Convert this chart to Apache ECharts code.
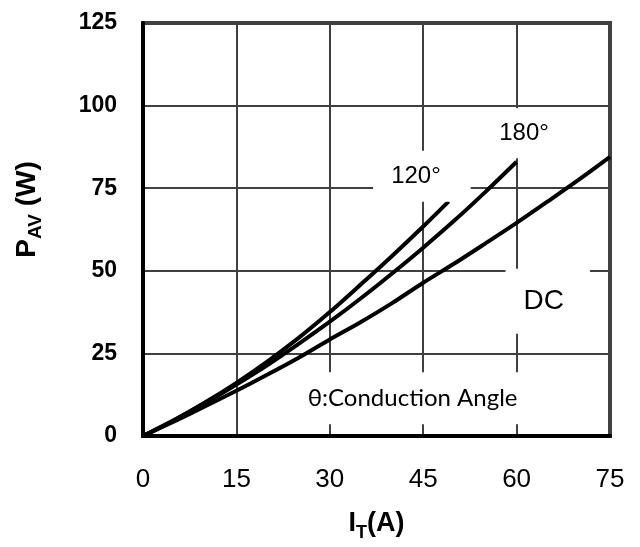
<!DOCTYPE html>
<html>
<head>
<meta charset="utf-8">
<script src="https://cdn.jsdelivr.net/npm/echarts@6/dist/echarts.min.js"></script>
<style>
  html, body { margin: 0; padding: 0; background: #ffffff; }
  #chart { width: 640px; height: 547px; }
</style>
</head>
<body>
<div id="chart"></div>
<script>
// Average on-state power dissipation vs. on-state current
const xTicks = [0, 15, 30, 45, 60, 75];
const yTicks = [0, 25, 50, 75, 100, 125];

// DC conduction
const currentDC = [0, 5, 10, 15, 20, 25, 30, 35, 40, 45, 50, 55, 60, 65, 70, 75];
const lossDC    = [0, 4.4, 9.0, 13.7, 18.6, 23.7, 29.2, 34.5, 40.2, 46.4, 52.2, 58.3, 64.5, 71.0, 77.6, 84.5];

// 180° conduction
const current180 = [0, 5, 10, 15, 20, 25, 30, 35, 40, 45, 50, 55, 60];
const loss180    = [0, 4.8, 10.0, 15.6, 21.5, 27.9, 34.6, 41.7, 49.2, 57.0, 65.2, 73.9, 83.0];

// 120° conduction
const current120 = [0, 5, 10, 15, 20, 25, 30, 35, 40, 45, 49.1];
const loss120    = [0, 4.8, 10.2, 16.1, 22.6, 29.7, 37.5, 45.9, 54.5, 63.4, 71.0];

const pairs = (xs, ys) => xs.map((x, i) => [x, ys[i]]);

const ARIAL = '"Liberation Sans", Arial, sans-serif';

// White-backed annotation anchored at a data coordinate
function note(text, coord, size, family, pad) {
  return {
    coord: coord,
    symbol: 'rect',
    symbolSize: 0,
    label: {
      show: true,
      position: 'inside',
      formatter: text,
      color: '#000',
      fontSize: size,
      lineHeight: size,
      fontFamily: family,
      backgroundColor: '#ffffff',
      padding: pad
    }
  };
}

const curveStyle = { color: '#000', width: 4 };

const chart = echarts.init(document.getElementById('chart'), null, { renderer: 'canvas' });
chart.setOption({
  animation: false,
  backgroundColor: '#ffffff',
  grid: {
    left: 143, right: 30, top: 23, bottom: 108,
    show: true,
    borderColor: '#404040',
    borderWidth: 4,
    backgroundColor: 'transparent'
  },
  xAxis: {
    type: 'value',
    min: xTicks[0],
    max: xTicks[xTicks.length - 1],
    interval: xTicks[1] - xTicks[0],
    axisLine: { show: true, onZero: false, lineStyle: { color: '#000', width: 4 } },
    axisTick: { show: false },
    splitLine: { show: true, lineStyle: { color: '#404040', width: 2 } },
    axisLabel: { color: '#000', fontSize: 26, fontFamily: ARIAL, margin: 31 },
    name: '{b|I}{s|T}{b|(A)}',
    nameLocation: 'middle',
    nameGap: 70,
    nameTextStyle: {
      rich: {
        b: { fontSize: 27, fontWeight: 'bold', fontFamily: ARIAL, color: '#000', lineHeight: 36, verticalAlign: 'middle' },
        s: { fontSize: 18, fontWeight: 'bold', fontFamily: ARIAL, color: '#000', lineHeight: 17, verticalAlign: 'bottom' }
      }
    }
  },
  yAxis: {
    type: 'value',
    min: yTicks[0],
    max: yTicks[yTicks.length - 1],
    interval: yTicks[1] - yTicks[0],
    axisLine: { show: true, onZero: false, lineStyle: { color: '#000', width: 4 } },
    axisTick: { show: false },
    splitLine: { show: true, lineStyle: { color: '#404040', width: 2 } },
    axisLabel: { color: '#000', fontSize: 23, fontWeight: 'bold', fontFamily: ARIAL, margin: 26 },
    name: '{b|P}{s|AV}{b| (W)}',
    nameLocation: 'middle',
    nameRotate: 90,
    nameGap: 98,
    nameTextStyle: {
      padding: [0, 0, 0, 40],
      rich: {
        b: { fontSize: 28, fontWeight: 'bold', fontFamily: ARIAL, color: '#000', lineHeight: 36, verticalAlign: 'middle' },
        s: { fontSize: 19, fontWeight: 'bold', fontFamily: ARIAL, color: '#000', lineHeight: 17, verticalAlign: 'bottom' }
      }
    }
  },
  series: [
    {
      name: 'DC',
      type: 'line',
      data: pairs(currentDC, lossDC),
      smooth: 0.3,
      showSymbol: false,
      lineStyle: curveStyle,
      markPoint: {
        silent: true,
        data: [
          note('DC', [65.0, 40.8], 28, ARIAL, [11, 26, 26, 18]),
          note('θ:Conduction Angle', [43.3, 11.4], 24, 'Lato, "Open Sans", sans-serif', [14, 9, 14, 9])
        ]
      }
    },
    {
      name: '180°',
      type: 'line',
      data: pairs(current180, loss180),
      smooth: 0.3,
      showSymbol: false,
      lineStyle: curveStyle,
      markPoint: {
        silent: true,
        data: [note('180°', [61.2, 91.6], 24, ARIAL, [8, 24, 18, 24])]
      }
    },
    {
      name: '120°',
      type: 'line',
      data: pairs(current120, loss120),
      smooth: 0.3,
      showSymbol: false,
      lineStyle: curveStyle,
      markPoint: {
        silent: true,
        data: [note('120°', [44.8, 78.6], 24, ARIAL, [9, 30, 18, 18])]
      }
    }
  ]
});
</script>
</body>
</html>
